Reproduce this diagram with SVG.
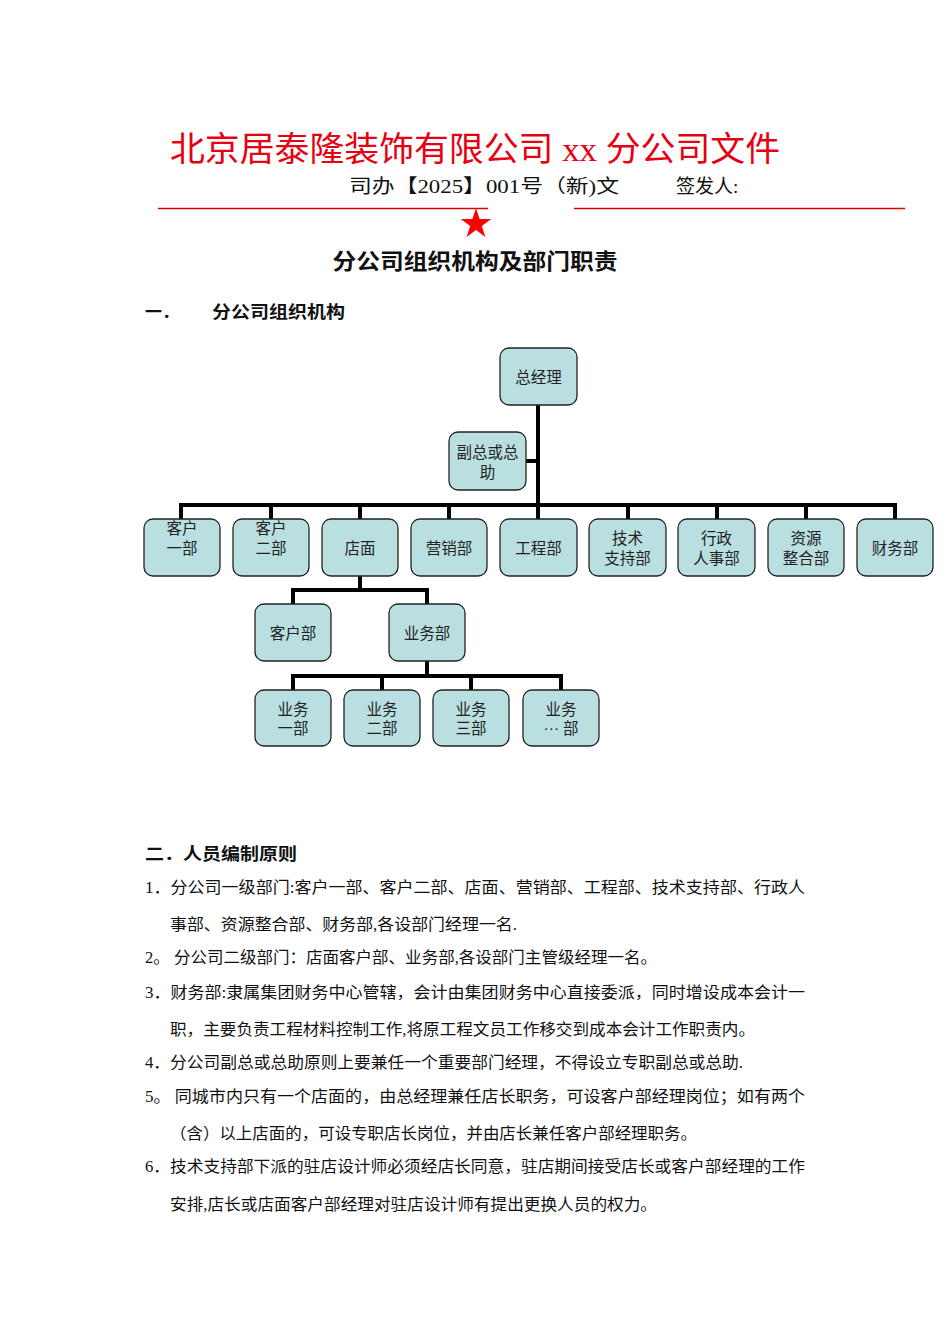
<svg xmlns="http://www.w3.org/2000/svg" width="950" height="1344" viewBox="0 0 950 1344">
<style>
.bg{fill:#ffffff}
.box{fill:#b9dfe0;stroke:#222;stroke-width:1.3}
.bt{font-family:"Liberation Serif","Noto Sans CJK SC",serif;font-size:15.5px;fill:#222;text-anchor:middle}
.ln{stroke:#000;stroke-width:4;fill:none;stroke-linecap:square}
.body{font-family:"Liberation Serif","Noto Sans CJK SC",serif;font-size:16px;fill:#111}
.hd{font-family:"Noto Sans CJK SC",sans-serif;font-weight:bold;fill:#111}
.red{stroke:#e00000;stroke-width:1.3}
</style>
<rect class="bg" x="0" y="0" width="950" height="1344"/>
<g id="header">
<text x="170" y="161" font-family="'Liberation Serif','Noto Sans CJK SC',serif" font-size="34" fill="#e60012" textLength="610" lengthAdjust="spacingAndGlyphs">北京居泰隆装饰有限公司 xx 分公司文件</text>
<text x="349" y="193" font-family="'Liberation Serif','Noto Sans CJK SC',serif" font-size="19" fill="#111" textLength="270" lengthAdjust="spacingAndGlyphs">司办【2025】001号（新)文</text>
<text x="676" y="193" font-family="'Liberation Serif','Noto Sans CJK SC',serif" font-size="19" fill="#111">签发人:</text>
<line class="red" x1="158" y1="208.5" x2="488" y2="208.5"/>
<line class="red" x1="574" y1="208.5" x2="905" y2="208.5"/>
<polygon fill="#ff0000" points="476,208 479.6,219.1 491.2,219.1 481.8,225.9 485.4,236.9 476,230.1 466.6,236.9 470.2,225.9 460.8,219.1 472.4,219.1"/>
<text class="hd" x="475" y="269" font-size="22" text-anchor="middle" textLength="285" lengthAdjust="spacingAndGlyphs">分公司组织机构及部门职责</text>
<text class="hd" x="145" y="318" font-size="17">一．</text>
<text class="hd" x="212" y="318" font-size="17" textLength="133" lengthAdjust="spacingAndGlyphs">分公司组织机构</text>
</g>
<g id="connectors">
<path class="ln" d="M538,405 V505 M527,461 H538 M181,505 H895 M181,505 V519 M271,505 V519 M360,505 V519 M449,505 V519 M538,505 V519 M628,505 V519 M717,505 V519 M806,505 V519 M895,505 V519"/>
<path class="ln" d="M360,576 V590 M293,590 H427 M293,590 V604 M427,590 V604"/>
<path class="ln" d="M427,661 V676 M293,676 H561 M293,676 V690 M382,676 V690 M471,676 V690 M561,676 V690"/>
</g>
<g id="n-zjl"><rect class="box" x="500" y="348" width="77" height="57" rx="9"/><text class="bt" x="538.5" y="383">总经理</text></g>
<g id="n-fz"><rect class="box" x="449" y="432" width="77" height="58" rx="9"/><text class="bt" x="487.5" y="458">副总或总</text><text class="bt" x="487.5" y="478">助</text></g>
<g id="n-kh1"><rect class="box" x="144" y="519" width="76" height="57" rx="9"/><text class="bt" x="182" y="534">客户</text><text class="bt" x="182" y="554">一部</text></g>
<g id="n-kh2"><rect class="box" x="233" y="519" width="76" height="57" rx="9"/><text class="bt" x="271" y="534">客户</text><text class="bt" x="271" y="554">二部</text></g>
<g id="n-dm"><rect class="box" x="322" y="519" width="76" height="57" rx="9"/><text class="bt" x="360" y="554">店面</text></g>
<g id="n-yx"><rect class="box" x="411" y="519" width="76" height="57" rx="9"/><text class="bt" x="449" y="554">营销部</text></g>
<g id="n-gc"><rect class="box" x="500" y="519" width="77" height="57" rx="9"/><text class="bt" x="538.5" y="554">工程部</text></g>
<g id="n-js"><rect class="box" x="589" y="519" width="77" height="57" rx="9"/><text class="bt" x="627.5" y="544">技术</text><text class="bt" x="627.5" y="564">支持部</text></g>
<g id="n-xz"><rect class="box" x="678" y="519" width="77" height="57" rx="9"/><text class="bt" x="716.5" y="544">行政</text><text class="bt" x="716.5" y="564">人事部</text></g>
<g id="n-zy"><rect class="box" x="768" y="519" width="76" height="57" rx="9"/><text class="bt" x="806" y="544">资源</text><text class="bt" x="806" y="564">整合部</text></g>
<g id="n-cw"><rect class="box" x="857" y="519" width="76" height="57" rx="9"/><text class="bt" x="895" y="554">财务部</text></g>
<g id="n-khb"><rect class="box" x="255" y="604" width="76" height="57" rx="9"/><text class="bt" x="293" y="639">客户部</text></g>
<g id="n-ywb"><rect class="box" x="389" y="604" width="76" height="57" rx="9"/><text class="bt" x="427" y="639">业务部</text></g>
<g id="n-yw1"><rect class="box" x="255" y="690" width="76" height="56" rx="9"/><text class="bt" x="293" y="715">业务</text><text class="bt" x="293" y="734">一部</text></g>
<g id="n-yw2"><rect class="box" x="344" y="690" width="76" height="56" rx="9"/><text class="bt" x="382" y="715">业务</text><text class="bt" x="382" y="734">二部</text></g>
<g id="n-yw3"><rect class="box" x="433" y="690" width="76" height="56" rx="9"/><text class="bt" x="471" y="715">业务</text><text class="bt" x="471" y="734">三部</text></g>
<g id="n-yw4"><rect class="box" x="523" y="690" width="76" height="56" rx="9"/><text class="bt" x="561" y="715">业务</text><text class="bt" x="561" y="734">··· 部</text></g>
<g id="section2">
<text class="hd" x="145" y="860" font-size="17" textLength="152" lengthAdjust="spacingAndGlyphs">二．人员编制原则</text>
<text class="body" x="145" y="893" textLength="660" lengthAdjust="spacingAndGlyphs">1．分公司一级部门:客户一部、客户二部、店面、营销部、工程部、技术支持部、行政人</text>
<text class="body" x="170" y="930" textLength="347" lengthAdjust="spacingAndGlyphs">事部、资源整合部、财务部,各设部门经理一名.</text>
<text class="body" x="145" y="963" textLength="512" lengthAdjust="spacingAndGlyphs">2。 分公司二级部门：店面客户部、业务部,各设部门主管级经理一名。</text>
<text class="body" x="145" y="998" textLength="660" lengthAdjust="spacingAndGlyphs">3．财务部:隶属集团财务中心管辖，会计由集团财务中心直接委派，同时增设成本会计一</text>
<text class="body" x="170" y="1035" textLength="585" lengthAdjust="spacingAndGlyphs">职，主要负责工程材料控制工作,将原工程文员工作移交到成本会计工作职责内。</text>
<text class="body" x="145" y="1068" textLength="598" lengthAdjust="spacingAndGlyphs">4．分公司副总或总助原则上要兼任一个重要部门经理，不得设立专职副总或总助.</text>
<text class="body" x="145" y="1102" textLength="660" lengthAdjust="spacingAndGlyphs">5。 同城市内只有一个店面的，由总经理兼任店长职务，可设客户部经理岗位；如有两个</text>
<text class="body" x="170" y="1139" textLength="527" lengthAdjust="spacingAndGlyphs">（含）以上店面的，可设专职店长岗位，并由店长兼任客户部经理职务。</text>
<text class="body" x="145" y="1172" textLength="660" lengthAdjust="spacingAndGlyphs">6．技术支持部下派的驻店设计师必须经店长同意，驻店期间接受店长或客户部经理的工作</text>
<text class="body" x="170" y="1210" textLength="487" lengthAdjust="spacingAndGlyphs">安排,店长或店面客户部经理对驻店设计师有提出更换人员的权力。</text>
</g>
</svg>
